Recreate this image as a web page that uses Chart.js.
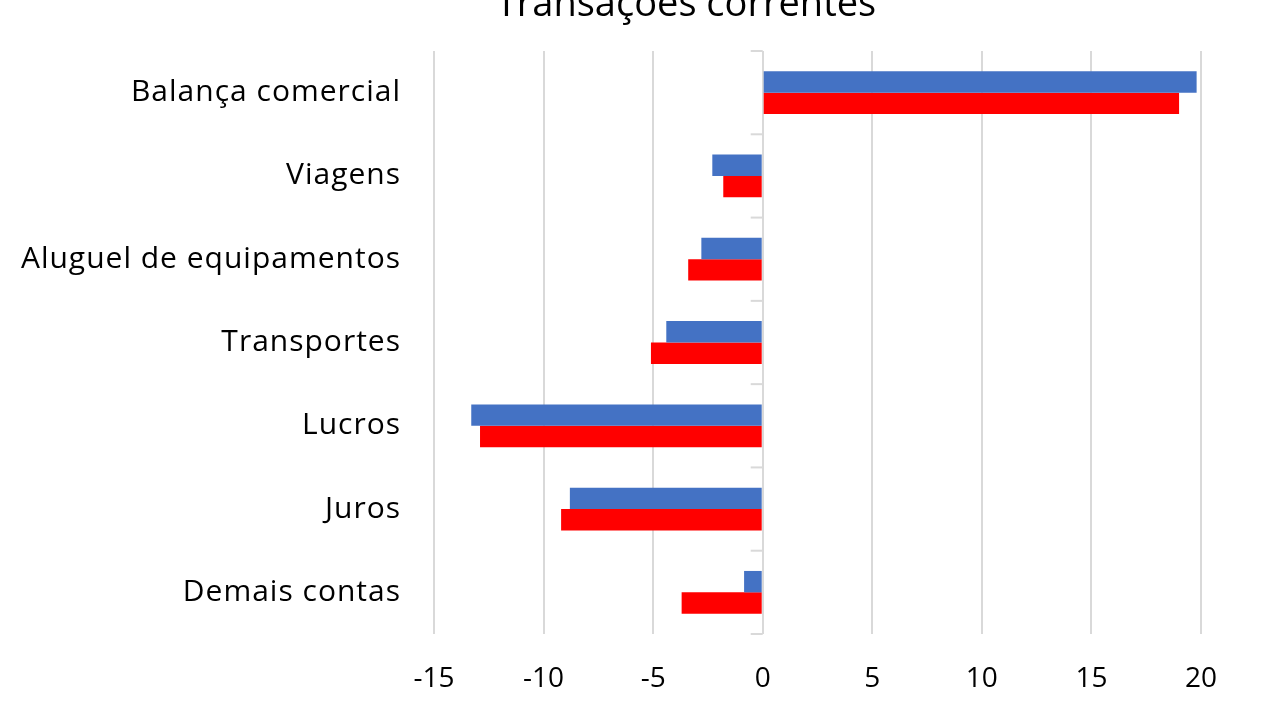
<!DOCTYPE html>
<html>
<head>
<meta charset="utf-8">
<script src="https://cdn.jsdelivr.net/npm/chart.js@4"></script>
<style>
html,body{margin:0;padding:0;background:#fff;}
#wrap{width:1280px;height:720px;}
</style>
</head>
<body>
<div id="wrap"><canvas id="c" width="1280" height="720"></canvas></div>
<script>
const categories = ["Balança comercial","Viagens","Aluguel de equipamentos","Transportes","Lucros","Juros","Demais contas"];
const seriesBlue = [19.8, -2.3, -2.8, -4.4, -13.3, -8.8, -0.85];
const seriesRed  = [19.0, -1.8, -3.4, -5.1, -12.9, -9.2, -3.7];
const xTicks = [-15,-10,-5,0,5,10,15,20];
const titleText = 'Transações correntes';

const FONT = "'Open Sans', Lato, sans-serif";

const catTicks = {
  id: 'catTicks',
  afterLayout(chart) {
    const ys = chart.scales.y;
    if (!ys._spacedPatch) {
      const orig = ys.drawLabels.bind(ys);
      ys.drawLabels = function (area) {
        const ctx = this.ctx;
        ctx.save();
        ctx.letterSpacing = '1px';
        orig(area);
        ctx.restore();
      };
      ys._spacedPatch = true;
    }
  },
  afterDatasetsDraw(chart) {
    const x = chart.scales.x, y = chart.scales.y, ctx = chart.ctx;
    const x0 = x.getPixelForValue(0);
    ctx.save();
    ctx.strokeStyle = '#d9d9d9';
    ctx.lineWidth = 2;
    for (let i = 0; i <= categories.length; i++) {
      const py = y.getPixelForValue(i - 0.5);
      ctx.beginPath();
      ctx.moveTo(x0 - 12, py);
      ctx.lineTo(x0, py);
      ctx.stroke();
    }
    ctx.restore();
  }
};

const topTitle = {
  id: 'topTitle',
  afterDraw(chart) {
    const ctx = chart.ctx;
    ctx.save();
    ctx.fillStyle = '#000';
    ctx.font = "normal 38px " + FONT;
    ctx.textAlign = 'center';
    ctx.textBaseline = 'alphabetic';
    ctx.fillText(titleText, chart.width / 2 + 46, 16);
    ctx.restore();
  }
};

new Chart(document.getElementById('c'), {
  type: 'bar',
  data: {
    labels: categories,
    datasets: [
      { label: 'Série 1', data: seriesBlue, backgroundColor: '#4472C4', categoryPercentage: 0.514, barPercentage: 1.0 },
      { label: 'Série 2', data: seriesRed, backgroundColor: '#FF0000', categoryPercentage: 0.514, barPercentage: 1.0 }
    ]
  },
  options: {
    indexAxis: 'y',
    responsive: false,
    animation: false,
    layout: { padding: { left: 0, right: 79, top: 44, bottom: 0 } },
    plugins: {
      legend: { display: false },
      tooltip: { enabled: false },
      title: { display: false }
    },
    scales: {
      x: {
        type: 'linear',
        min: -15, max: 20,
        afterBuildTicks(scale) { scale.ticks = xTicks.map(v => ({ value: v })); },
        afterFit(scale) { scale.height = 86; },
        grid: { color: '#d9d9d9', lineWidth: 2, drawTicks: false },
        border: { display: false },
        ticks: { color: '#000', font: { family: FONT, size: 28 }, padding: 28, maxRotation: 0 }
      },
      y: {
        grid: { display: false, drawTicks: false },
        border: { display: false },
        afterFit(scale) { scale.width = 434; },
        ticks: { color: '#000', font: { family: FONT, size: 30 }, padding: 33 }
      }
    }
  },
  plugins: [catTicks, topTitle]
});
</script>
</body>
</html>
